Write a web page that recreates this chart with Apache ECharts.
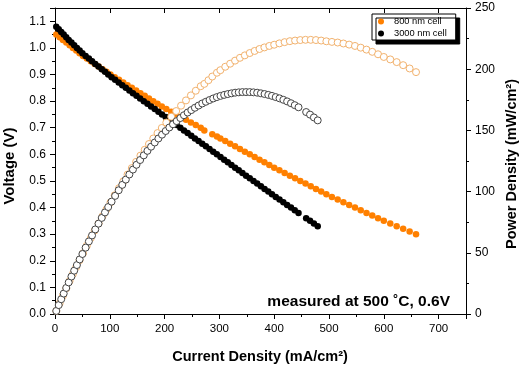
<!DOCTYPE html>
<html>
<head>
<meta charset="utf-8">
<script src="https://cdn.jsdelivr.net/npm/echarts@6/dist/echarts.min.js"></script>
<style>html,body{margin:0;padding:0;background:#fff;}#c{width:525px;height:368px;}</style>
</head>
<body>
<div id="c"></div>
<script>
// Current density (mA/cm2), voltage (V) and power density (mW/cm2)
// '-' marks a point whose voltage dot is missing in the picture
const I800 = [2.4,8.5,14.5,20.6,26.7,32.7,38.8,44.8,51.1,58.2,65.4,72.5,79.6,86.8,93.9,101.2,109.0,116.8,124.6,132.4,140.2,148.0,155.9,163.7,171.5,179.3,187.1,194.9,203.1,212.1,221.1,230.0,239.0,248.0,256.9,265.9,272.5,280.0,287.0,295.5,301.8,310.7,319.6,328.6,337.5,346.4,355.4,364.3,373.2,382.1,391.1,400.0,409.5,419.0,428.6,438.1,447.6,457.1,466.7,476.2,485.7,495.2,505.3,515.8,526.3,536.8,547.4,557.9,568.4,578.9,589.5,600.0,611.8,623.5,635.3,647.1,658.8];
const V800 = [1.05,1.04,1.03,1.02,1.01,1.00,0.99,0.98,0.97,0.96,0.95,0.94,0.93,0.92,0.91,0.90,0.89,0.88,0.87,0.86,0.85,0.84,0.83,0.82,0.81,0.80,0.79,0.78,0.77,0.76,0.75,0.74,0.73,0.72,0.71,0.70,0.69,'-',0.676,0.667,0.66,0.65,0.64,0.63,0.62,0.61,0.60,0.59,0.58,0.57,0.56,0.55,0.54,0.53,0.52,0.51,0.50,0.49,0.48,0.47,0.46,0.45,0.44,0.43,0.42,0.41,0.40,0.39,0.38,0.37,0.36,0.35,0.34,0.33,0.32,0.31,0.30];
const P800 = [2.5,8.8,14.9,21.0,27.0,32.7,38.4,43.9,49.6,55.9,62.1,68.2,74.0,79.9,85.4,91.1,97.0,102.8,108.4,113.9,119.2,124.3,129.4,134.2,138.9,143.4,147.8,152.0,156.4,161.2,165.8,170.2,174.5,178.6,182.4,186.1,188.0,191.0,194.0,197.1,199.2,202.0,204.5,207.0,209.3,211.3,213.2,214.9,216.5,217.8,219.0,220.0,221.1,222.1,222.9,223.4,223.8,224.0,224.0,223.8,223.4,222.8,222.3,221.8,221.0,220.1,219.0,217.6,216.0,214.2,212.2,210.0,208.0,205.8,203.3,200.6,197.6];

const I3000 = [2.3,6.8,11.4,15.9,20.5,25.0,30.0,35.0,40.0,45.0,50.0,55.9,61.8,67.6,73.5,79.4,85.3,91.2,97.1,103.2,109.7,116.2,122.7,129.2,135.7,142.2,148.7,155.3,162.0,168.7,175.3,182.0,188.7,195.3,202.0,208.7,215.3,222.0,228.7,235.3,242.0,248.7,255.3,262.0,268.7,275.3,282.0,288.7,295.3,302.0,308.7,315.3,322.0,328.7,335.3,342.0,348.7,355.4,362.2,368.9,375.7,382.4,389.2,395.9,402.8,409.7,416.7,423.6,430.6,437.5,444.4,458.3,465.4,472.4,479.4];
const V3000 = [1.08,1.07,1.06,1.05,1.04,1.03,1.02,1.01,1.00,0.99,0.98,0.97,0.96,0.95,0.94,0.93,0.92,0.91,0.90,0.89,0.88,0.87,0.86,0.85,0.84,0.83,0.82,0.81,0.80,0.79,0.78,0.77,0.76,0.75,0.74,0.73,0.72,0.71,0.70,0.69,0.68,0.67,0.66,0.65,0.64,0.63,0.62,0.61,0.60,0.59,0.58,0.57,0.56,0.55,0.54,0.53,0.52,0.51,0.50,0.49,0.48,0.47,0.46,0.45,0.44,0.43,0.42,0.41,0.40,0.39,0.38,0.36,0.35,0.34,0.33];
const P3000 = [2.5,7.3,12.1,16.7,21.3,25.8,30.6,35.4,40.0,44.6,49.0,54.2,59.3,64.2,69.1,73.8,78.5,83.0,87.4,91.8,96.5,101.1,105.5,109.8,114.0,118.0,121.9,125.8,129.6,133.3,136.7,140.1,143.4,146.5,149.5,152.4,155.0,157.6,160.1,162.4,164.6,166.6,168.5,170.3,172.0,173.4,174.8,176.1,177.2,178.2,179.0,179.7,180.3,180.8,181.1,181.3,181.3,181.3,181.1,180.8,180.3,179.7,179.0,178.2,177.2,176.2,175.0,173.7,172.2,170.6,168.9,165.0,162.9,160.6,158.2];

const seriesNames = ['800 nm cell', '3000 nm cell'];
const xTicks = [0,100,200,300,400,500,600,700];
const titles = {x: 'Current Density (mA/cm\u00B2)', yLeft: 'Voltage (V)', yRight: 'Power Density (mW/cm\u00B2)'};
const annotation = 'measured at 500 \u02DAC, 0.6V';

const pairs = (xs, ys) => xs.map((x, i) => [x, ys[i]]);

const FONT = 'Liberation Sans, Arial, sans-serif';
const chart = echarts.init(document.getElementById('c'), null, {renderer: 'canvas'});

const axisCommon = {
  axisLine: {show: true, onZero: false, lineStyle: {color: '#000', width: 1}},
  splitLine: {show: false},
  axisLabel: {color: '#000', fontFamily: FONT, fontSize: 12}
};

chart.setOption({
  animation: false,
  backgroundColor: '#fff',
  grid: {left: 55, right: 59, top: 8, bottom: 54, containLabel: false},
  legend: {
    data: seriesNames,
    orient: 'vertical',
    left: 372, top: 14,
    padding: [2, 9, 1, 6],
    itemGap: 1,
    itemWidth: 16, itemHeight: 6,
    icon: 'circle',
    backgroundColor: '#fff',
    borderColor: '#000', borderWidth: 1, borderRadius: 0,
    shadowColor: '#000', shadowBlur: 0, shadowOffsetX: 4, shadowOffsetY: 4,
    textStyle: {color: '#000', fontFamily: FONT, fontSize: 9.3, lineHeight: 11},
    selectedMode: false
  },
  xAxis: [
    Object.assign({}, axisCommon, {
      type: 'value', min: 0, max: 750, interval: 100, position: 'bottom',
      axisTick: {show: true, inside: false, length: 5, lineStyle: {color: '#000'}},
      minorTick: {show: true, splitNumber: 2, length: 3, lineStyle: {color: '#000'}},
      axisLabel: {color: '#000', fontFamily: FONT, fontSize: 11.5, margin: 9, showMaxLabel: false,
        formatter: v => (xTicks.indexOf(v) >= 0 ? String(v) : '')}
    }),
    Object.assign({}, axisCommon, {
      type: 'value', min: 0, max: 750, interval: 100, position: 'top',
      axisTick: {show: true, inside: true, length: 5, lineStyle: {color: '#000'}},
      minorTick: {show: false},
      axisLabel: {show: false}
    })
  ],
  yAxis: [
    Object.assign({}, axisCommon, {
      type: 'value', min: 0, max: 1.15, interval: 0.1, position: 'left',
      axisTick: {show: true, inside: false, length: 5, lineStyle: {color: '#000'}},
      minorTick: {show: true, splitNumber: 2, length: 3, lineStyle: {color: '#000'}},
      axisLabel: {color: '#000', fontFamily: FONT, fontSize: 12, margin: 9, showMaxLabel: false,
        formatter: v => (Math.abs(Math.round(v * 10) - v * 10) < 1e-6 ? v.toFixed(1) : '')}
    }),
    Object.assign({}, axisCommon, {
      type: 'value', min: 0, max: 250, interval: 50, position: 'right',
      axisTick: {show: true, inside: false, length: 5, lineStyle: {color: '#000'}},
      minorTick: {show: true, splitNumber: 2, length: 3, lineStyle: {color: '#000'}},
      axisLabel: {color: '#000', fontFamily: FONT, fontSize: 12, margin: 9}
    })
  ],
  series: [
    {
      name: seriesNames[0], type: 'scatter', xAxisIndex: 0, yAxisIndex: 0,
      data: pairs(I800, V800), symbol: 'circle', symbolSize: 6.5,
      itemStyle: {color: '#FF8000', opacity: 1}, z: 2
    },
    {
      name: seriesNames[1], type: 'scatter', xAxisIndex: 0, yAxisIndex: 0,
      data: pairs(I3000, V3000), symbol: 'circle', symbolSize: 6.5,
      itemStyle: {color: '#000', opacity: 1}, z: 2
    },
    {
      name: seriesNames[0] + ' power', type: 'scatter', xAxisIndex: 0, yAxisIndex: 1,
      data: pairs(I800, P800), symbol: 'circle', symbolSize: 7,
      itemStyle: {color: '#fff', borderColor: '#F2B26E', borderWidth: 1, opacity: 1}, z: 3
    },
    {
      name: seriesNames[1] + ' power', type: 'scatter', xAxisIndex: 0, yAxisIndex: 1,
      data: pairs(I3000, P3000), symbol: 'circle', symbolSize: 7,
      itemStyle: {color: '#fff', borderColor: '#444', borderWidth: 1, opacity: 1}, z: 3
    }
  ],
  graphic: [
    {
      type: 'text', z: 10, x: 450, y: 302,
      style: {text: annotation, textAlign: 'right', textVerticalAlign: 'middle',
        fill: '#000', font: 'bold 15.5px ' + FONT}
    },
    {
      type: 'text', z: 10, x: 260, y: 357,
      style: {text: titles.x, textAlign: 'center', textVerticalAlign: 'middle',
        fill: '#000', font: 'bold 14.5px ' + FONT}
    },
    {
      type: 'text', z: 10, x: 10, y: 166, rotation: Math.PI / 2,
      style: {text: titles.yLeft, textAlign: 'center', textVerticalAlign: 'middle',
        fill: '#000', font: 'bold 15px ' + FONT}
    },
    {
      type: 'text', z: 10, x: 512, y: 164, rotation: Math.PI / 2,
      style: {text: titles.yRight, textAlign: 'center', textVerticalAlign: 'middle',
        fill: '#000', font: 'bold 14.5px ' + FONT}
    }
  ]
});
</script>
</body>
</html>
